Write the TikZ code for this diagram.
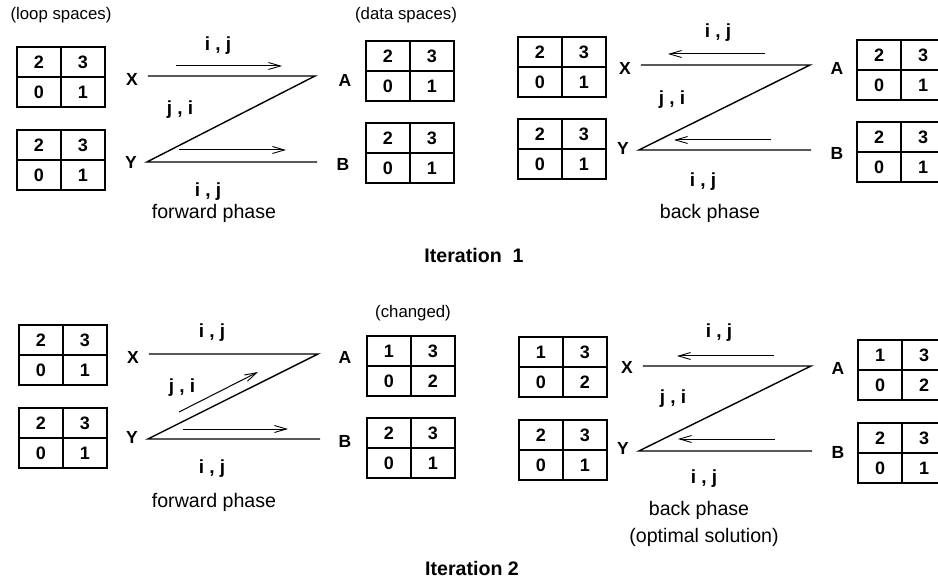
\documentclass[tikz,border=0pt]{standalone}
\usepackage{fontspec}
\setmainfont{Liberation Sans}
\usetikzlibrary{arrows.meta}
\tikzset{
  cell/.style={draw, line width=1.5pt, minimum width=44pt, minimum height=30pt, inner sep=0pt, font=\bfseries\fontsize{18}{20}\selectfont},
  var/.style={font=\bfseries\fontsize{17.5}{19}\selectfont, inner sep=0pt, outer sep=10pt},
  idx/.style={font=\bfseries\fontsize{19}{21}\selectfont},
  note/.style={font=\fontsize{16.8}{20}\selectfont},
  phase/.style={font=\fontsize{19.6}{24}\selectfont},
  iter/.style={font=\bfseries\fontsize{19.6}{24}\selectfont},
  edge/.style={line width=1.4pt},
  dir/.style={line width=1pt, -{Straight Barb[length=12pt,width=7pt,line width=0.9pt]}}
}
\begin{document}
\begin{tikzpicture}[x=1pt, y=-1pt]
  \useasboundingbox (0,0) rectangle (938,580);
  \foreach \g/\x/\y/\p/\q/\r/\s in {
      la/17/47/2/3/0/1, lb/17/130/2/3/0/1, da/366/41/2/3/0/1, db/366/123/2/3/0/1,
      lc/518/37/2/3/0/1, ld/518/119/2/3/0/1, dc/857/40/2/3/0/1, dd/857/122/2/3/0/1,
      le/19/325/2/3/0/1, lf/19/408/2/3/0/1, de/367/336/1/3/0/2, df/367/418/2/3/0/1,
      lg/519/337/1/3/0/2, lh/519/420/2/3/0/1, dg/858/340/1/3/0/2, dh/858/423/2/3/0/1}
  {
    \node[cell] (\g-p) at (\x+22,\y+15) {\p};
    \node[cell] (\g-q) at (\x+66,\y+15) {\q};
    \node[cell] (\g-r) at (\x+22,\y+45) {\r};
    \node[cell] (\g-s) at (\x+66,\y+45) {\s};
  }

  \node[note] (loop) at (61,15) {(loop spaces)};
  \node[note] (data) at (406,15) {(data spaces)};
  \node[note] (chg) at (413,313) {(changed)};

  \node[var] (X1) at (132,79) {X};
  \node[var] (Y1) at (131,162) {Y};
  \node[var] (A1) at (345,80) {A};
  \node[var] (B1) at (343,164) {B};
  \coordinate (ta1) at (315,76);
  \coordinate (tb1) at (317,162);
  \draw[edge] (X1.east |- ta1) -- (ta1) -- (Y1.east |- tb1) -- (tb1);
  \coordinate (pa1) at (176,66);
  \coordinate (qa1) at (282,66);
  \coordinate (pb1) at (179,150);
  \coordinate (qb1) at (286,150);
  \draw[dir] (pa1) -- (qa1);
  \draw[dir] (pb1) -- (qb1);
  \node[idx] (ij1) at (218,46) {i , j};
  \node[idx] (ji1) at (180,110) {j , i};
  \node[idx] (ik1) at (208,192) {i , j};
  \node[phase] (ph1) at (214,213) {forward phase};

  \node[var] (X2) at (625,68) {X};
  \node[var] (Y2) at (623,148) {Y};
  \node[var] (A2) at (837,68) {A};
  \node[var] (B2) at (837,153) {B};
  \coordinate (ta2) at (810,65);
  \coordinate (tb2) at (811,150);
  \draw[edge] (X2.east |- ta2) -- (ta2) -- (Y2.east |- tb2) -- (tb2);
  \coordinate (pa2) at (765,54);
  \coordinate (qa2) at (668,54);
  \coordinate (pb2) at (771,140);
  \coordinate (qb2) at (674,140);
  \draw[dir] (pa2) -- (qa2);
  \draw[dir] (pb2) -- (qb2);
  \node[idx] (ij2) at (718,33) {i , j};
  \node[idx] (ji2) at (672,100) {j , i};
  \node[idx] (ik2) at (703,182) {i , j};
  \node[phase] (ph2) at (710,213) {back phase};

  \node[iter] (it1) at (474,255) {Iteration~~1};

  \node[var] (X3) at (133,357) {X};
  \node[var] (Y3) at (132,437) {Y};
  \node[var] (A3) at (345,357) {A};
  \node[var] (B3) at (345,441) {B};
  \coordinate (ta3) at (318,354);
  \coordinate (tb3) at (320,439);
  \draw[edge] (X3.east |- ta3) -- (ta3) -- (Y3.east |- tb3) -- (tb3);
  \coordinate (pa3) at (179,412);
  \coordinate (qa3) at (258,372);
  \coordinate (pb3) at (183,429);
  \coordinate (qb3) at (288,429);
  \draw[dir] (pa3) -- (qa3);
  \draw[dir] (pb3) -- (qb3);
  \node[idx] (ij3) at (212,333) {i , j};
  \node[idx] (ji3) at (182,388) {j , i};
  \node[idx] (ik3) at (212,469) {i , j};
  \node[phase] (ph3) at (214,502) {forward phase};

  \node[var] (X4) at (627,367) {X};
  \node[var] (Y4) at (623,448) {Y};
  \node[var] (A4) at (838,368) {A};
  \node[var] (B4) at (838,452) {B};
  \coordinate (ta4) at (811,366);
  \coordinate (tb4) at (812,451);
  \draw[edge] (X4.east |- ta4) -- (ta4) -- (Y4.east |- tb4) -- (tb4);
  \coordinate (pa4) at (774,356);
  \coordinate (qa4) at (677,356);
  \coordinate (pb4) at (775,439);
  \coordinate (qb4) at (678,439);
  \draw[dir] (pa4) -- (qa4);
  \draw[dir] (pb4) -- (qb4);
  \node[idx] (ij4) at (719,333) {i , j};
  \node[idx] (ji4) at (673,399) {j , i};
  \node[idx] (ik4) at (704,479) {i , j};
  \node[phase] (ph4) at (699,510) {back phase};
  \node[phase] (opt) at (704,537) {(optimal solution)};

  \node[iter] (it2) at (472,568) {Iteration 2};
\end{tikzpicture}
\end{document}
